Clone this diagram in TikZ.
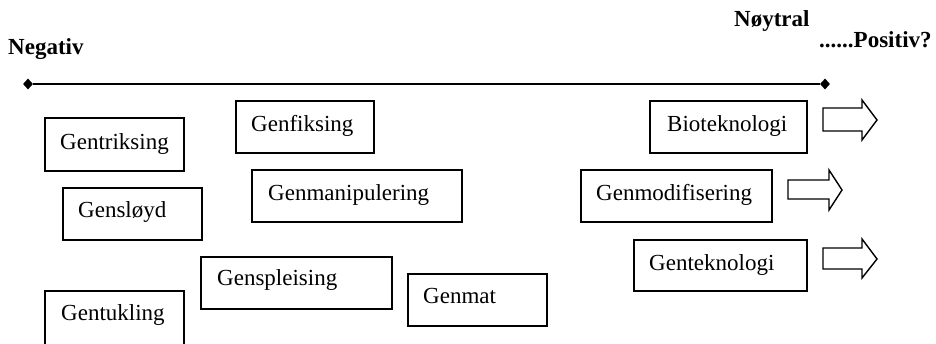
\documentclass[tikz,border=0pt]{standalone}
\usepackage{fontspec}
\setmainfont{Liberation Serif}
\usetikzlibrary{fit,shapes.geometric}
\tikzset{
  box/.style={draw, line width=1.4pt, inner sep=0pt, rectangle},
  txt/.style={inner sep=0pt, anchor=base west, font=\fontsize{23}{27}\selectfont},
  head/.style={inner sep=0pt, anchor=base west, font=\fontsize{23}{27}\selectfont\bfseries},
  endpt/.style={diamond, fill, inner sep=0pt, minimum width=10pt, minimum height=11pt},
  axis/.style={line width=1.4pt},
  barrow/.style={draw, line width=1.4pt, line join=miter}
}
\begin{document}
\begin{tikzpicture}[x=1pt,y=-1pt]
\useasboundingbox (0,0) rectangle (936,343);
% headings
\node[head] (neg) at (8,54) {Negativ};
\node[head] (noy) at (734,26) {Nøytral};
\node[head] (pos) at (819,47) {......Positiv?};
% axis
\node[endpt] (l) at (28,84) {};
\node[endpt] (r) at (825,84) {};
\draw[axis] (l) -- (r);
% boxes
\node[box, fit={(45,118) (184,171)}] (b1) {};
\node[txt] (t1) at (60,149) {Gentriksing};
\node[box, fit={(236,101) (374,153)}] (b2) {};
\node[txt] (t2) at (251,131) {Genfiksing};
\node[box, fit={(252,170) (462,222)}] (b3) {};
\node[txt] (t3) at (268,200) {Genmanipulering};
\node[box, fit={(63,188) (202,240)}] (b4) {};
\node[txt] (t4) at (78,217) {Gensløyd};
\node[box, fit={(201,257) (392,309)}] (b5) {};
\node[txt] (t5) at (217,285) {Genspleising};
\node[box, fit={(45,291) (184,347)}] (b6) {};
\node[txt] (t6) at (61,320) {Gentukling};
\node[box, fit={(408,274) (547,326)}] (b7) {};
\node[txt] (t7) at (423,303) {Genmat};
\node[box, fit={(650,101) (807,153)}] (b8) {};
\node[txt] (t8) at (667,131) {Bioteknologi};
\node[box, fit={(581,170) (772,222)}] (b9) {};
\node[txt] (t9) at (596,200) {Genmodifisering};
\node[box, fit={(634,240) (807,291)}] (b10) {};
\node[txt] (t10) at (649,270) {Genteknologi};
% block arrows
\draw[barrow] (823,108) -- (862,108) -- (862,100) -- (877,120) -- (862,140) -- (862,131) -- (823,131) -- cycle;
\draw[barrow] (788,180) -- (829,180) -- (829,170) -- (842,190) -- (829,210) -- (829,199) -- (788,199) -- cycle;
\draw[barrow] (823,248) -- (862,248) -- (862,239) -- (877,259) -- (862,278) -- (862,269) -- (823,269) -- cycle;
\end{tikzpicture}
\end{document}
